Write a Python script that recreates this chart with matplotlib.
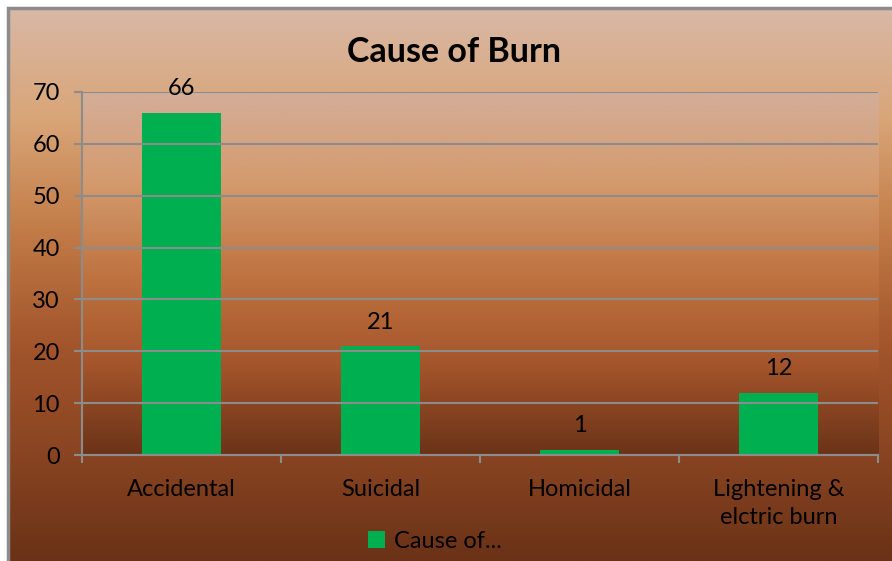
import matplotlib.pyplot as plt
import numpy as np
from matplotlib.colors import LinearSegmentedColormap
from matplotlib.patches import Rectangle

categories = ["Accidental", "Suicidal", "Homicidal", "Lightening &\nelctric burn"]
values = [66, 21, 1, 12]
series_name = "Cause of..."
title = "Cause of Burn"

plt.rcParams['font.family'] = ['Lato', 'DejaVu Sans']

W, H = 892, 561
fig = plt.figure(figsize=(W / 100, H / 100), dpi=100)
fig.patch.set_facecolor("white")

# outer chart area gradient
outer_cmap = LinearSegmentedColormap.from_list(
    "outer", ["#d8b8a6", "#d9a577", "#c27c48", "#a4562c", "#8a4522", "#6a3217"])
bg = fig.add_axes([8 / W, 0, 1 - 8 / W, 1 - 8 / H])
bg.imshow(np.linspace(0, 1, 256).reshape(-1, 1), aspect="auto", cmap=outer_cmap,
          extent=[0, 1, 0, 1])
bg.set_xlim(0, 1)
bg.set_ylim(0, 1)
bg.axis("off")
bg.add_patch(Rectangle((0, -0.2), 1.2, 1.2, fill=False, edgecolor="#8c8c8c", lw=2.5,
                       transform=bg.transAxes, clip_on=False))

# plot area
left, right, top, bottom = 82, 878, 92, 455
ax = fig.add_axes([left / W, 1 - bottom / H, (right - left) / W, (bottom - top) / H])
ax.set_facecolor("none")
plot_cmap = LinearSegmentedColormap.from_list(
    "plot", ["#d4ae99", "#d49a6d", "#bf7441", "#a5552b", "#6a3318"])
x = np.arange(len(categories))
ax.imshow(np.linspace(0, 1, 256).reshape(-1, 1), aspect="auto", cmap=plot_cmap,
          extent=[-0.5, len(categories) - 0.5, 0, 70], zorder=0)

ax.set_ylim(0, 70)
ax.set_xlim(-0.5, len(categories) - 0.5)
ax.set_yticks(range(0, 71, 10))
ax.yaxis.grid(True, color="#8c8c8c", lw=1.5, zorder=1)
ax.set_axisbelow(False)

bars = ax.bar(x, values, width=0.4, color="#00b050", zorder=2, label=series_name)
for xi, v in zip(x, values):
    ax.text(xi, v + 2.6, str(v), ha="center", va="bottom", fontsize=17, color="black", zorder=3)

for s in ["top", "right"]:
    ax.spines[s].set_visible(False)
for s in ["left", "bottom"]:
    ax.spines[s].set_color("#8c8c8c")
    ax.spines[s].set_linewidth(1.5)

ax.tick_params(axis="y", length=6, width=1.5, color="#8c8c8c", labelsize=17, pad=10)
ax.set_xticks(np.arange(-0.5, len(categories), 1))
ax.set_xticklabels([])
ax.set_xticks(x, minor=True)
ax.set_xticklabels(categories, minor=True, fontsize=17, linespacing=1.45)
ax.tick_params(axis="x", which="major", length=6, width=1.5, color="#8c8c8c")
ax.tick_params(axis="x", which="minor", length=0, pad=17)
for t in ax.get_xticklabels(minor=True):
    t.set_verticalalignment("top")

fig.text(454 / W, 1 - 52 / H, title, ha="center", va="center", fontsize=24.5,
         fontweight="bold", color="black")

leg = fig.legend(handles=[bars], labels=[series_name], loc="center",
                 bbox_to_anchor=(435 / W, 1 - 541 / H), frameon=False, fontsize=17,
                 handlelength=0.7, handleheight=0.7, handletextpad=0.4)

fig.savefig("out.png", dpi=100)
